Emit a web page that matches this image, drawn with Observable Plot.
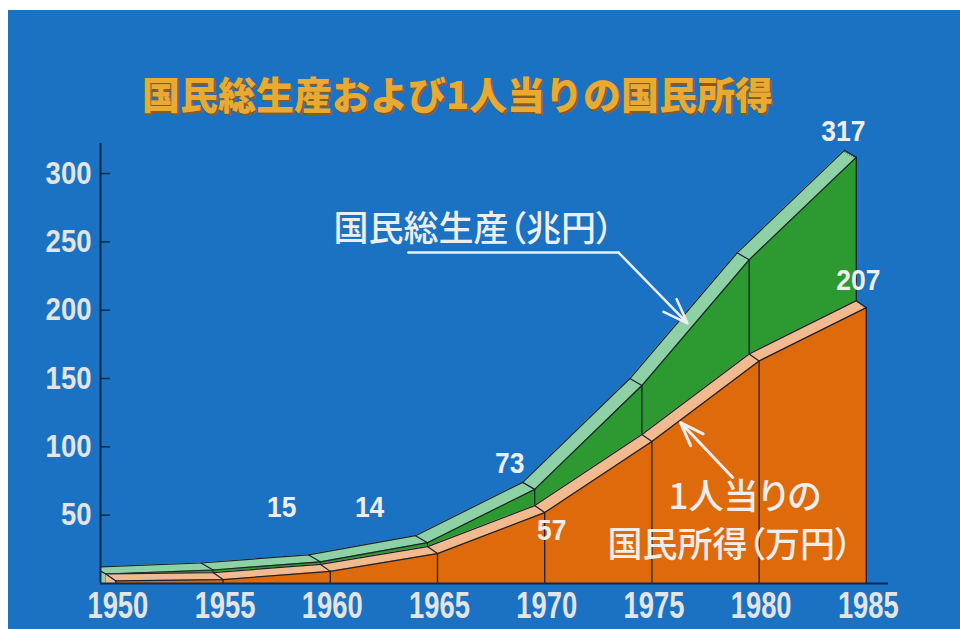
<!DOCTYPE html>
<html lang="ja">
<head>
<meta charset="utf-8">
<script src="https://cdn.jsdelivr.net/npm/d3@7"></script>
<script src="https://cdn.jsdelivr.net/npm/@observablehq/plot@0.6"></script>
<style>
html,body{margin:0;padding:0;background:#fff;}
body{width:960px;height:629px;position:relative;overflow:hidden;}
#bg{position:absolute;left:8px;top:10px;right:0;bottom:0;background:#1b72c2;}
#title{position:absolute;left:0;width:915px;top:74px;line-height:38px;text-align:center;font-family:"Noto Sans CJK JP",sans-serif;font-weight:900;font-size:38px;color:#e9aa33;text-shadow:1.5px 1.5px 0 #8d5a1e;white-space:nowrap;}
#chart{position:absolute;left:0;top:115px;}
#chart g[aria-label="text"] text{font-feature-settings:"palt";}
</style>
</head>
<body>
<div id="bg"></div>
<div id="title">国民総生産および1人当りの国民所得</div>
<div id="chart"></div>
<script>
// ---- data ----
const years  = [1950, 1955, 1960, 1965, 1970, 1975, 1980, 1985];
const gnp    = [12, 15, 21, 35, 74, 150, 242, 317];   // 国民総生産（兆円）
const income = [7, 8, 14, 27, 57, 109, 168, 207];     // 1人当りの国民所得（万円）
const yTicks = [50, 100, 150, 200, 250, 300];
const xTicks = years;

const gnpLabel = "国民総生産（兆円）";
const incLabel1 = "1人当りの";
const incLabel2 = "国民所得（万円）";
const freeLabels = [{year: 1958.2, value: 56, text: "15"}, {year: 1962.3, value: 56, text: "14"}];
const gnpCallout = [{year: 1964.11, value: 242.2}, {year: 1973.91, value: 242.2}, {year: 1977.13, value: 190.3}];
const incCallout = [{year: 1979.23, value: 77.6}, {year: 1976.80, value: 117.8}];
const textAnchors = [
  {year: 1960.62, value: 259.1, text: gnpLabel},
  {year: 1976.24, value: 62.9, text: incLabel1},
  {year: 1973.40, value: 27.8, text: incLabel2}
];

const table = years.map((year, i) => ({year, gnp: gnp[i], inc: income[i]}));
const last = table[table.length - 1];
const t1970 = table.find(d => d.year === 1970);

// ---- styles ----
const navy = "#0f2a4a", edge = "#1b2230";
const lightGreen = "#8fd1a6", green = "#2c9a30";
const peach = "#f1ba8f", orange = "#df6a0b";
const white = "#eeeeee";
const numFont = "'Liberation Sans',Arial,sans-serif";
const jpFont = "'Noto Sans CJK JP',sans-serif";
const steps = [0, 0.15, 0.3, 0.45, 0.6, 0.75, 0.9];

function ribbon(field, light, dark, depthX, depthY, faceDx, faceDy) {
  const len = Math.hypot(depthX, depthY);
  const rot = Math.atan2(depthX, -depthY) * 180 / Math.PI;
  return [
    ...steps.map(t => Plot.areaY(table, {x: "year", y: field, fill: light, clip: true,
        dx: faceDx - depthX * (1 - t), dy: faceDy - depthY * (1 - t)})),
    Plot.areaY(table, {x: "year", y: field, fill: dark, dx: faceDx, dy: faceDy, clip: true}),
    Plot.ruleX(table, {x: "year", y1: 0, y2: field, stroke: edge, strokeWidth: 1.3, dx: faceDx, dy: faceDy, clip: true}),
    Plot.line(table, {x: "year", y: field, stroke: edge, strokeWidth: 1.2, dx: faceDx - depthX, dy: faceDy - depthY, clip: true}),
    Plot.line(table, {x: "year", y: field, stroke: edge, strokeWidth: 1.2, dx: faceDx, dy: faceDy, clip: true}),
    Plot.vector(table, {x: "year", y: field, length: len, rotate: rot, anchor: "start", shape: "spike", r: 0.01,
        stroke: edge, strokeWidth: 1.2, dx: faceDx - depthX, dy: faceDy - depthY, clip: true})
  ];
}

const chart = Plot.plot({
  width: 960, height: 514,
  marginLeft: 100, marginRight: 72, marginTop: 28, marginBottom: 46,
  x: {domain: [1949.75, 1986.5]},
  y: {domain: [0, 322]},
  style: {background: "transparent", overflow: "visible"},
  marks: [
    ...ribbon("gnp", lightGreen, green, 12, 7, 0, 7),
    ...ribbon("inc", peach, orange, 10, 7, 10, 7),
    Plot.ruleX([1949.75], {stroke: navy, strokeWidth: 2}),
    Plot.ruleY([0], {stroke: navy, strokeWidth: 2}),
    Plot.axisY(yTicks, {tickSize: 10, dx: 10, tickFormat: () => "", stroke: navy, strokeWidth: 1.5, label: null}),
    Plot.axisY(yTicks, {tickSize: 0, tickPadding: 9, fontSize: 32, fontWeight: "bold", fontFamily: numFont, fill: "#e4e4e4", label: null}),
    Plot.axisX(xTicks, {tickSize: 0, tickPadding: 9, dx: 12, tickFormat: "d", fontSize: 36, fontWeight: "bold", fontFamily: numFont, fill: "#e4e4e4", label: null}),
    // value labels
    Plot.text([last], {x: "year", y: "gnp", text: d => String(d.gnp), dx: -13, dy: -19, fontSize: 30, fontWeight: "bold", fontFamily: numFont, fill: white}),
    Plot.text([last], {x: "year", y: "inc", text: d => String(d.inc), dx: 2, dy: -20, fontSize: 30, fontWeight: "bold", fontFamily: numFont, fill: white}),
    Plot.text([t1970], {x: "year", y: "gnp", text: d => String(d.gnp - 1), dx: -25, dy: -19, fontSize: 30, fontWeight: "bold", fontFamily: numFont, fill: white}),
    Plot.text([t1970], {x: "year", y: "inc", text: d => String(d.inc), dx: 17, dy: 25, fontSize: 30, fontWeight: "bold", fontFamily: numFont, fill: white}),
    Plot.text(freeLabels, {x: "year", y: "value", text: "text", fontSize: 30, fontWeight: "bold", fontFamily: numFont, fill: white}),
    // callouts
    Plot.line(gnpCallout.slice(0, 2), {x: "year", y: "value", stroke: white, strokeWidth: 2.5}),
    Plot.arrow([gnpCallout], {x1: d => d[1].year, y1: d => d[1].value, x2: d => d[2].year, y2: d => d[2].value,
        stroke: white, strokeWidth: 2.5, headLength: 16, headAngle: 40}),
    Plot.arrow([incCallout], {x1: d => d[0].year, y1: d => d[0].value, x2: d => d[1].year, y2: d => d[1].value,
        stroke: white, strokeWidth: 3, headLength: 16, headAngle: 40}),
    Plot.text(textAnchors, {x: "year", y: "value", text: "text", textAnchor: "start", lineAnchor: "middle",
        fontSize: 35, fontWeight: 500, fontFamily: jpFont, fill: white})
  ]
});
document.getElementById("chart").append(chart);

// condensed numerals, like the reference's narrow bold face
function condense(selector, factor) {
  chart.querySelectorAll(selector).forEach(t => {
    if (!/^\d+$/.test(t.textContent)) return;
    const w = t.getComputedTextLength();
    if (w > 0) {
      t.setAttribute("textLength", (w * factor).toFixed(1));
      t.setAttribute("lengthAdjust", "spacingAndGlyphs");
    }
  });
}
condense('g[aria-label="x-axis tick label"] text', 0.76);
condense('g[aria-label="y-axis tick label"] text', 0.86);
condense('g[aria-label="text"] text', 0.88);
</script>
</body>
</html>
